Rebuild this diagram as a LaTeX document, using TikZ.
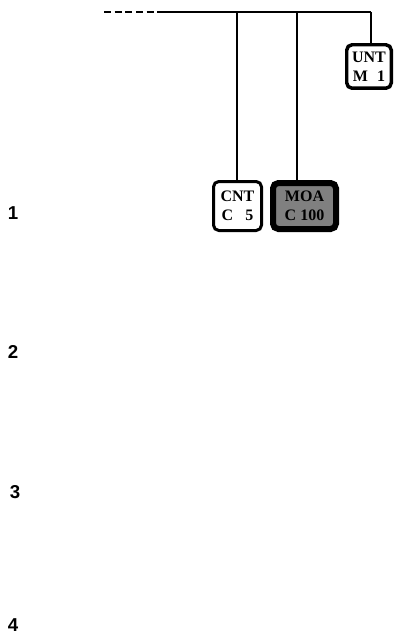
\documentclass[tikz,border=0pt]{standalone}
\usepackage{xcolor,tikz}
\usepackage{fontspec}
\setmainfont{Liberation Serif}
\newfontfamily\numfont{Liberation Sans}
\usetikzlibrary{positioning,calc}
\definecolor{segLine}{HTML}{000000}
\definecolor{segGreyBg}{HTML}{808080}
\tikzset{
  seg box/.style={
    rectangle, rounded corners=4pt,
    draw=segLine, fill=white,
    inner sep=0pt,
    align=center,
    font=\fontsize{12}{14.3}\selectfont\bfseries,
  },
  level num/.style={
    font=\numfont\fontsize{14}{16}\selectfont\bfseries,
  },
  bus line/.style={line width=0.9pt},
}

\begin{document}
\begin{tikzpicture}[x=0.75pt, y=-0.75pt]
\useasboundingbox (0,0) rectangle (393,635);

%% bus line ==========================================================
\coordinate (busL) at (104,12);
\coordinate (busM) at (157,12);
\coordinate (tapC) at (237,12);
\coordinate (tapM) at (297,12);
\coordinate (tapU) at (371,12);
\draw[bus line, dash pattern=on 5.2pt off 2.8pt] (busL) -- (busM);
\draw[bus line] (busM) -- (tapU);

%% segment boxes =====================================================
\node[seg box, line width=2.6pt, minimum width=33.4pt, minimum height=32.6pt]
  (unt) at (369, 66.5) {UNT\\M\hspace{7pt}1};
\node[seg box, line width=2.25pt, minimum width=36pt, minimum height=36.75pt]
  (cnt) at (237.5, 206) {CNT\\C\hspace{9pt}5};
\node[seg box, line width=4.5pt, fill=segGreyBg, minimum width=47.25pt, minimum height=34.5pt]
  (moa) at (304.5, 206) {MOA\\C 100};

\draw[bus line] (tapU) -- (tapU |- unt.north);
\draw[bus line] (tapC) -- (tapC |- cnt.north);
\draw[bus line] (tapM) -- (tapM |- moa.north);

%% level numbers =====================================================
\node[level num] (lv1) at (13, 213) {1};
\node[level num] (lv2) at (13, 352) {2};
\node[level num] (lv3) at (15, 492) {3};
\node[level num] (lv4) at (13, 625) {4};

\end{tikzpicture}
\end{document}
